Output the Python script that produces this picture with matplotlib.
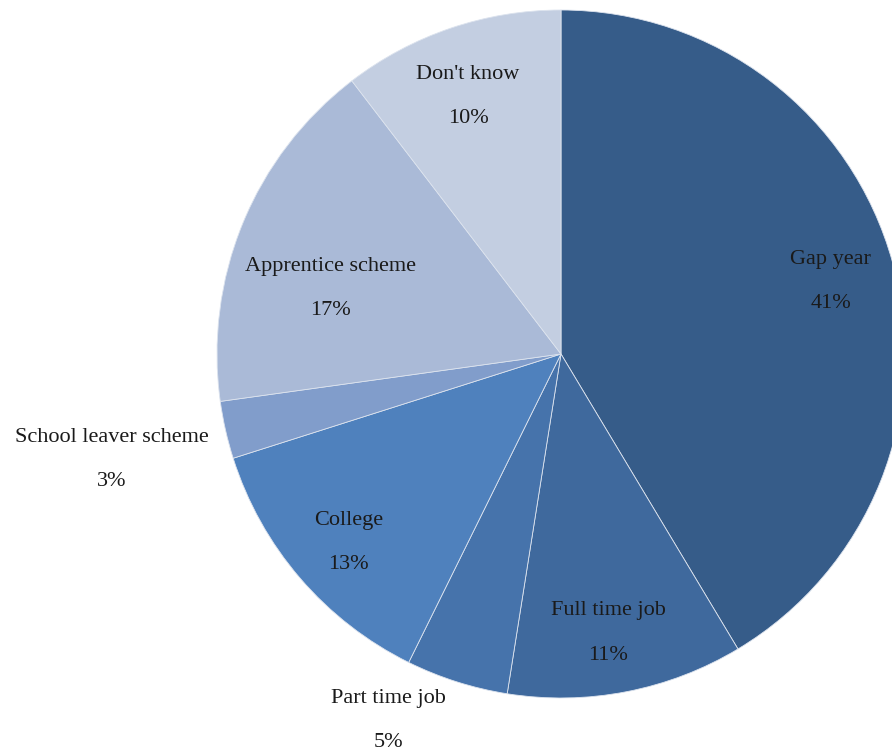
import numpy as np
import matplotlib.pyplot as plt

categories = ["Gap year", "Full time job", "Part time job", "College",
              "School leaver scheme", "Apprentice scheme", "Don't know"]
share = [41.4, 11.1, 4.8, 12.8, 2.7, 16.8, 10.4]
colours = ["#365C89", "#3F699D", "#4673AB", "#4F81BD",
           "#819DCB", "#AABAD7", "#C3CEE1"]

# label placement: distance (fraction of radius) and angle nudge in degrees
label_dist = [0.815, 0.814, 1.17, 0.82, 1.34, 0.70, 0.805]
label_nudge = [0.2, -1.3, -7.8, 0.4, 0.1, 5.7, 0.9]

fig = plt.figure(figsize=(8.92, 7.51), dpi=100)
ax = fig.add_axes([0, 0, 1, 1])

cx, cy, r = 561, 397, 344
wedges, _ = ax.pie(share, colors=colours, startangle=90, counterclock=False,
                   radius=r, center=(cx, cy), frame=True,
                   wedgeprops=dict(edgecolor="#DCE3EE", linewidth=0.6))
ax.set_xlim(0, 892)
ax.set_ylim(0, 751)
ax.set_aspect("equal")
ax.axis("off")

for w, name, s, d, n in zip(wedges, categories, share, label_dist, label_nudge):
    mid = np.radians((w.theta1 + w.theta2) / 2 + n)
    x = cx + d * r * np.cos(mid)
    y = cy + d * r * np.sin(mid) - 3
    ax.text(x, y, f"{name}\n{s:.0f}%", ha="center", va="center",
            fontsize=16, family="Liberation Serif", linespacing=2.8,
            color="#1a1a1a")

fig.savefig("out.png", dpi=100)
